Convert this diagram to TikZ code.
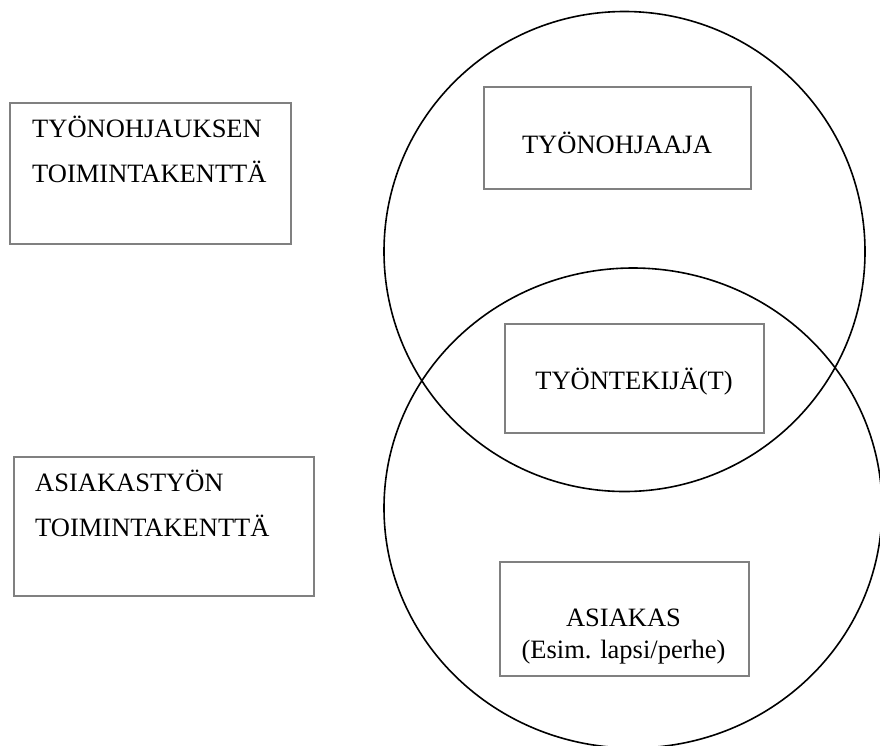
\documentclass[tikz,border=0pt]{standalone}
\usepackage{fontspec}
\setmainfont{Liberation Serif}
\usepackage{tikz}
\usetikzlibrary{positioning}

\begin{document}
\begin{tikzpicture}[x=1pt, y=-1pt,
    laatikko/.style={draw=black!50, line width=1.5pt, inner sep=0pt},
    teksti/.style={inner sep=0pt, font=\fontsize{26.5}{45}\selectfont},
    piiri/.style={line width=1.6pt}]
    \clip (0,0) rectangle (880,745);
    \fill[white] (0,0) rectangle (880,745);
    % toimintakentat
    \node[laatikko, minimum width=281pt, minimum height=141pt, anchor=north west] (ohjKentta) at (9,102) {};
    \node[laatikko, minimum width=300pt, minimum height=139pt, anchor=north west] (asKentta) at (13,456) {};
    \node[teksti, align=left, anchor=base west] (ohjTeksti) at (32,182) {TYÖNOHJAUKSEN\\TOIMINTAKENTTÄ};
    \node[teksti, align=left, anchor=base west] (asTeksti) at (35,536) {ASIAKASTYÖN\\TOIMINTAKENTTÄ};
    % piirit
    \draw[piiri] (624.5,251.5) ellipse [x radius=240.5pt, y radius=240pt];
    \draw[piiri] (633,508) ellipse [x radius=249pt, y radius=240pt];
    % osapuolet
    \node[laatikko, minimum width=267pt, minimum height=102pt, anchor=north west] (ohjaaja) at (483,86) {};
    \node[teksti, anchor=base] (ohjaajaTeksti) at (617,153) {TYÖNOHJAAJA};
    \node[laatikko, minimum width=259pt, minimum height=109pt, anchor=north west] (tyontekija) at (504,323) {};
    \node[teksti, anchor=base] (tyontekijaTeksti) at (634,389) {TYÖNTEKIJÄ(T)};
    \node[laatikko, minimum width=249pt, minimum height=114pt, anchor=north west] (asiakas) at (499,561) {};
    \node[teksti, align=center, anchor=base, font=\fontsize{26.5}{32}\selectfont] (asiakasTeksti) at (623.5,658) {ASIAKAS\\(Esim. lapsi/perhe)};
\end{tikzpicture}
\end{document}
